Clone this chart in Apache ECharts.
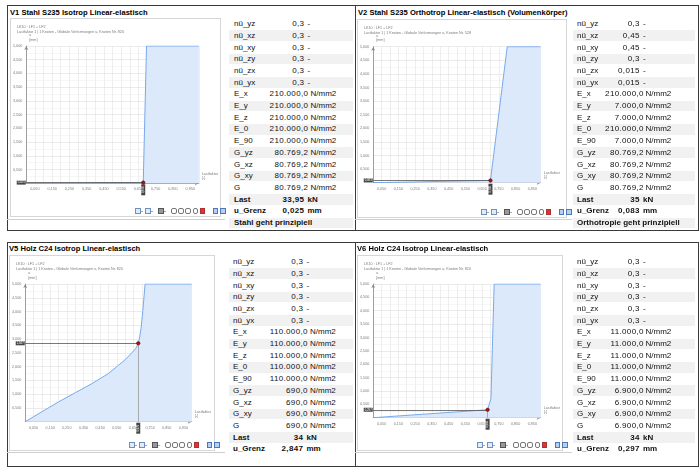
<!DOCTYPE html>
<html><head><meta charset="utf-8">
<script src="https://cdn.jsdelivr.net/npm/echarts@6/dist/echarts.min.js"></script>
<style>
body{margin:0;width:700px;height:468px;position:relative;overflow:hidden;background:#fff;font-family:'Liberation Sans',Arial,sans-serif;}
.block{position:absolute;border:1.5px solid #3a3a3a;box-sizing:border-box;}
.vdiv{position:absolute;width:1.5px;background:#3a3a3a;}
.hl{position:absolute;height:1px;background:#c8c8c8;}
.title{position:absolute;font-weight:bold;font-size:7.6px;color:#000;white-space:nowrap;line-height:10px;}
.frame{position:absolute;border:1px solid #d6d6d6;box-sizing:border-box;}
.chart{position:absolute;}
.band{position:absolute;background:#f1f1f1;}
.cell{position:absolute;font-size:8px;white-space:nowrap;color:#111;height:11.7px;line-height:11.7px;}
.val{letter-spacing:0.35px;}
.tb{position:absolute;display:flex;align-items:center;height:6px;}
.ic{width:3.6px;height:3.6px;border:0.6px solid #6f8fbf;background:#e3ebf7;margin-right:1.6px;}
.ic.dd{margin-right:0.4px;}
.arr{width:0;height:0;border-left:1.2px solid transparent;border-right:1.2px solid transparent;border-top:1.5px solid #555;margin-right:2px;}
.ic.p{border-color:#555;background:#999;}
.ic.m{border-color:#777;background:#fff;border-radius:2px;}
.ic.x{border-color:#a33;background:#d33;}
.ic.b{border-color:#4a78c0;background:#b9cff0;}
.gap{width:3px;}
</style></head><body>
<script>
// ---------- DATA ----------
const panelTitles = [
  'V1 Stahl S235 Isotrop Linear-elastisch',
  'V2 Stahl S235 Orthotrop Linear-elastisch (Volumenkörper)',
  'V5 Holz C24 Isotrop Linear-elastisch',
  'V6 Holz C24 Isotrop Linear-elastisch'
];
const headerLine1 = 'LK10 : LF1 + LF2';
const headerLine2 = [
  'Lastfaktor 1 | 1 Knoten - Globale Verformungen u, Knoten Nr. 820',
  'Lastfaktor 1 | 1 Knoten - Globale Verformungen u, Knoten Nr. 528',
  'Lastfaktor 1 | 1 Knoten - Globale Verformungen u, Knoten Nr. 820',
  'Lastfaktor 1 | 1 Knoten - Globale Verformungen u, Knoten Nr. 820'
];
const xAxisName = 'Lastfaktor\n[-]';
const yAxisName = 'u\n[mm]';
const xTickLabels = ['0,050','0,150','0,250','0,350','0,450','0,550','0,650','0,750','0,850','0,950'];
const yTickLabels = ['0,500','1,000','1,500','2,000','2,500','3,000','3,500','4,000','4,500','5,000'];

// load factor (x) and displacement u in mm (y)
const v1X = [0, 0.678, 0.697, 1.0];
const v1Y = [0, 0.025, 5.0, 5.0];
const v2X = [0, 0.700, 0.800, 1.0];
const v2Y = [0, 0.083, 5.0, 5.0];
const v5X = [0, 0.10, 0.20, 0.30, 0.40, 0.50, 0.55, 0.60, 0.64, 0.665, 0.679, 0.686, 0.696, 0.706, 0.720, 1.0];
const v5Y = [0, 0.36, 0.72, 1.05, 1.38, 1.75, 2.00, 2.25, 2.50, 2.67, 2.847, 3.03, 3.39, 4.00, 5.0, 5.0];
const v6X = [0, 0.683, 0.703, 0.722, 1.0];
const v6Y = [0, 0.297, 0.72, 5.0, 5.0];

const markerX = [0.678, 0.700, 0.679, 0.683];
const markerXLabels = ['0,678','0,700','0,679','0,683'];
const uGrenz = [0.025, 0.083, 2.847, 0.297];

const paramNames = ['nü_yz','nü_xz','nü_xy','nü_zy','nü_zx','nü_yx','E_x','E_y','E_z','E_0','E_90','G_yz','G_xz','G_xy','G'];
const paramUnits = ['-','-','-','-','-','-','N/mm2','N/mm2','N/mm2','N/mm2','N/mm2','N/mm2','N/mm2','N/mm2','N/mm2'];
const v1Params = ['0,3','0,3','0,3','0,3','0,3','0,3','210.000,0','210.000,0','210.000,0','210.000,0','210.000,0','80.769,2','80.769,2','80.769,2','80.769,2'];
const v2Params = ['0,3','0,45','0,45','0,3','0,015','0,015','210.000,0','7.000,0','7.000,0','210.000,0','7.000,0','80.769,2','80.769,2','80.769,2','80.769,2'];
const v5Params = ['0,3','0,3','0,3','0,3','0,3','0,3','110.000,0','110.000,0','110.000,0','110.000,0','110.000,0','690,0','690,0','690,0','690,0'];
const v6Params = ['0,3','0,3','0,3','0,3','0,3','0,3','11.000,0','11.000,0','11.000,0','11.000,0','11.000,0','6.900,0','6.900,0','6.900,0','6.900,0'];
const lastValues = ['33,95','35','34','34'];
const uGrenzTexts = ['0,025','0,083','2,847','0,297'];
const notes = ['Stahl geht prinzipiell','Orthotropie geht prinzipiell','',''];

// ---------- LAYOUT ----------
const seriesX = [v1X, v2X, v5X, v6X];
const seriesY = [v1Y, v2Y, v5Y, v6Y];
const params = [v1Params, v2Params, v5Params, v6Params];
const panels = [
  {tx:10, ty:7.5, frame:[10,18,211,199], grid:{left:14,top:28,right:21,bottom:33.7}, tb:[229,353], lx:234, vs:304, vl:308, us:307.5, ul:310.5, r0:24, hline:[7,219,218]},
  {tx:358,ty:7.5, frame:[357,19,210,199], grid:{left:14,top:27.7,right:26.3,bottom:35.3}, tb:[573,695], lx:577, vs:639.5, vl:643.5, us:643, ul:645.5, r0:24, hline:[355,219,217]},
  {tx:9, ty:244, frame:[9,255,206,196], grid:{left:13.3,top:29,right:23.3,bottom:29.3}, tb:[229,353], lx:233, vs:303, vl:307.5, us:306.5, ul:310, r0:262, hline:[7,452,218]},
  {tx:357,ty:244, frame:[357,255,206,196], grid:{left:14,top:29,right:22.3,bottom:33.3}, tb:[573,695], lx:577, vs:639.5, vl:643.5, us:643, ul:645.5, r0:262, hline:[355,452,217]}
];
const ROWH = 11.7;

function add(cls, style, text){
  const d=document.createElement('div'); d.className=cls;
  Object.assign(d.style, style); if(text!==undefined) d.textContent=text;
  document.body.appendChild(d); return d;
}
const px=v=>v+'px';

// outer borders
add('block',{left:'7px',top:'5px',width:'691.5px',height:'225.5px'});
add('vdiv',{left:'354.5px',top:'5px',height:'225px'});
add('block',{left:'7px',top:'242px',width:'691.5px',height:'224.5px'});
add('vdiv',{left:'354.5px',top:'242px',height:'224px'});

const xLab = v => { const k=Math.round(v/0.05); return (k%2===1)? xTickLabels[(k-1)/2] : ''; };
const yLab = v => { const k=Math.round(v/0.5); return k>0 ? yTickLabels[k-1] : ''; };

panels.forEach((p,i)=>{
  add('title',{left:px(p.tx),top:px(p.ty)},panelTitles[i]);
  add('hl',{left:px(p.hline[0]),top:px(p.hline[1]),width:px(p.hline[2]),background:'#cfcfcf'});
  // table
  const rows=[];
  paramNames.forEach((n,k)=>rows.push({l:n,v:params[i][k],u:paramUnits[k],long:paramUnits[k]!=='-',b:false}));
  rows.push({l:'Last',v:lastValues[i],u:'kN',long:false,b:true});
  rows.push({l:'u_Grenz',v:uGrenzTexts[i],u:'mm',long:false,b:true});
  if(notes[i]) rows.push({l:notes[i],v:'',u:'',long:false,b:true});
  rows.forEach((r,k)=>{
    const top=p.r0+k*ROWH-ROWH/2;
    if(k%2===1) add('band',{left:px(p.tb[0]),top:px(top+0.5),width:px(p.tb[1]-p.tb[0]),height:px(ROWH-1)});
    const fw=r.b?'bold':'normal';
    add('cell',{left:px(p.lx),top:px(top),fontWeight:fw},r.l);
    if(r.v){
      const ve=(r.long?p.vl:p.vs)+0.35;
      add('cell val',{left:px(ve-60),width:'60px',textAlign:'right',top:px(top),fontWeight:fw},r.v);
      add('cell',{left:px(r.long?p.ul:p.us),top:px(top),fontWeight:fw},r.u);
    }
  });
  // frame + chart
  const [fx,fy,fw,fh]=p.frame;
  add('frame',{left:px(fx),top:px(fy),width:px(fw),height:px(fh)});
  const el=add('chart',{left:px(fx),top:px(fy),width:px(fw),height:px(fh)});
  // toolbar
  const tb=add('tb',{left:px(fx+fw-86),top:px(fy+fh-9)});
  ['ic dd','arr','ic dd','arr','gap','ic p dd','arr','gap','ic m','ic m','ic m','ic m','ic x','gap','gap','ic b','ic b'].forEach(c=>{
    const s=document.createElement('div'); s.className=c; tb.appendChild(s);
  });

  const mx=markerX[i], my=uGrenz[i];
  const data=seriesX[i].map((x,k)=>[x,seriesY[i][k]]);
  const chart=echarts.init(el,null,{width:fw,height:fh});
  const txt={fontFamily:'Liberation Sans, Arial, sans-serif',fontSize:3.7,color:'#7a7a7a'};
  chart.setOption({
    animation:false,
    title:{text:headerLine1,subtext:headerLine2[i],left:2,top:1.5,itemGap:1,
      textStyle:Object.assign({},txt,{fontWeight:'normal'}),subtextStyle:txt},
    grid:p.grid,
    xAxis:{type:'value',min:0,max:1,interval:0.05,
      name:xAxisName,nameLocation:'end',nameGap:3,
      nameTextStyle:Object.assign({},txt,{align:'left',verticalAlign:'bottom',lineHeight:4.5,padding:[0,0,3,0]}),
      axisLine:{onZero:true,lineStyle:{color:'#8a8a8a',width:0.8},symbol:['none','arrow'],symbolSize:[3,4]},
      axisTick:{show:false},
      axisLabel:Object.assign({},txt,{margin:4,formatter:xLab,showMinLabel:true,showMaxLabel:true,hideOverlap:false}),
      splitLine:{show:true,lineStyle:{color:'#e2e2e2',width:0.6}}},
    yAxis:{type:'value',min:0,max:5,interval:0.5,
      name:yAxisName,nameLocation:'end',nameGap:4,
      nameTextStyle:Object.assign({},txt,{align:'left',lineHeight:4.5,padding:[0,0,0,3]}),
      axisLine:{show:true,lineStyle:{color:'#8a8a8a',width:0.8},symbol:['none','arrow'],symbolSize:[3,4]},
      axisTick:{show:false},
      axisLabel:Object.assign({},txt,{margin:4,formatter:yLab}),
      splitLine:{show:true,lineStyle:{color:'#dedede',width:0.6}},
      minorTick:{show:false,splitNumber:2},
      minorSplitLine:{show:true,lineStyle:{color:'#efefef',width:0.5}}},
    series:[{
      type:'line',data:data,showSymbol:false,
      lineStyle:{color:'#78a9ee',width:1},
      areaStyle:{color:'#dce9fb',opacity:1},
      markLine:{silent:true,symbol:['none','none'],label:{show:false},
        data:[
          [{coord:[0,my],lineStyle:{color:'#555',width:0.8,type:'solid'}},{coord:[mx,my]}],
          [{coord:[mx,my],lineStyle:{color:'#9a9a9a',width:0.8,type:'solid'}},{coord:[mx,0]}]
        ]},
      markPoint:{silent:true,data:[
        {coord:[0,my],symbol:'rect',symbolSize:[9,4],symbolOffset:[-5,0],itemStyle:{color:'#454545'},
          label:{show:true,formatter:uGrenzTexts[i],fontSize:2.8,color:'#fff'}},
        {coord:[mx,0],symbol:'rect',symbolSize:[4,11],symbolOffset:[0,6.5],itemStyle:{color:'#454545'},
          label:{show:true,formatter:markerXLabels[i],fontSize:2.6,color:'#fff',rotate:90}},
        {coord:[mx,my],symbol:'circle',symbolSize:3.5,itemStyle:{color:'#b01010',borderColor:'#500',borderWidth:0.5},label:{show:false}}
      ]}
    }]
  });
});
</script>
</body></html>
